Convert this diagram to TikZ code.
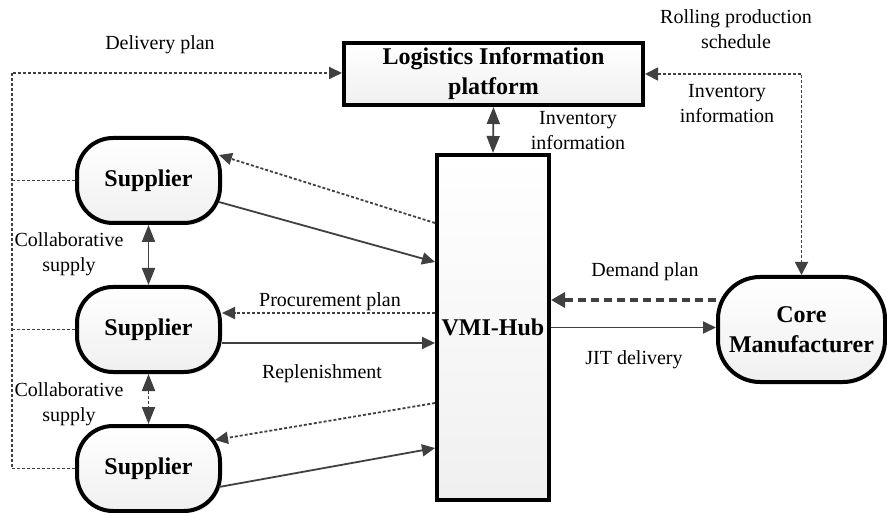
\documentclass[tikz,border=0pt]{standalone}
\usepackage{fontspec}
\setmainfont{Liberation Serif}
\usetikzlibrary{arrows.meta, positioning, calc, shadows}
\definecolor{linegray}{HTML}{404040}
\tikzstyle{boxbase} = [draw=black, line width=4pt, top color=white, bottom color=gray!12, drop shadow={shadow xshift=2pt, shadow yshift=-2pt, fill=black!15}, font=\fontsize{24}{30}\selectfont\bfseries, align=center, inner sep=2pt]
\tikzstyle{platform} = [boxbase, rectangle, minimum width=299pt, minimum height=62pt]
\tikzstyle{hubbox} = [boxbase, rectangle, minimum width=112pt, minimum height=345pt]
\tikzstyle{supplier} = [boxbase, rectangle, rounded corners=36pt, minimum width=143pt, minimum height=85pt]
\tikzstyle{maker} = [boxbase, rectangle, rounded corners=42pt, minimum width=167pt, minimum height=105pt]
\tikzstyle{note} = [font=\fontsize{20}{25}\selectfont, align=center, inner sep=0pt]
\tikzstyle{arrow} = [draw=linegray, line width=1.8pt, -{Triangle[length=13pt,width=12pt]}]
\tikzstyle{dotline} = [draw=linegray, line width=1.8pt, dash pattern=on 3pt off 2pt]
\tikzstyle{dotarrow} = [dotline, -{Triangle[length=13pt,width=12pt]}]
\tikzstyle{twoway} = [draw=linegray, line width=1.8pt, {Triangle[length=17pt,width=13pt]}-{Triangle[length=17pt,width=13pt]}]

\begin{document}
\begin{tikzpicture}[x=1pt, y=-1pt]
        \useasboundingbox (0,0) rectangle (887,513);

        % Platform and hub (Center)
        \node (lip) [platform] at (493.5,74) {Logistics Information\\platform};
        \node (hub) [hubbox] at (493,327.5) {VMI-Hub};

        % Suppliers (Left)
        \node (sup1) [supplier] at (148.5,180.5) {Supplier};
        \node (sup2) [supplier] at (148.5,329.5) {Supplier};
        \node (sup3) [supplier] at (148.5,468.5) {Supplier};

        % Manufacturer (Right)
        \node (core) [maker] at (801.5,329.5) {Core\\Manufacturer};

        % Information bus
        \coordinate (bustop) at (12,73);
        \draw [dotarrow] (sup3.west) -| (bustop) -- (bustop -| lip.west);
        \draw [dotline] (sup1.west) -- (sup1.west -| bustop);
        \draw [dotline] (sup2.west) -- (sup2.west -| bustop);
        \draw [dotline, {Triangle[length=13pt,width=13pt]}-{Triangle[length=13pt,width=13pt]}] (lip.east) -| (core.north);

        % Arrows
        \draw [twoway] (lip.south) -- (hub.north);
        \draw [twoway] (sup1.south) -- (sup2.north);
        \draw [twoway, dash pattern=on 3pt off 2pt] (sup2.south) -- (sup3.north);

        \draw [arrow] ([shift={(-3,21.5)}]sup1.east) -- ([shift={(0,-65.5)}]hub.west);
        \draw [dotarrow] ([shift={(0,-104.5)}]hub.west) -- ([shift={(-3,-25.5)}]sup1.east);
        \draw [dotarrow] ([shift={(0,-14.5)}]hub.west) -- ([shift={(0,-16.5)}]sup2.east);
        \draw [arrow] ([shift={(0,13.5)}]sup2.east) -- ([shift={(0,15.5)}]hub.west);
        \draw [dotarrow] ([shift={(0,75.5)}]hub.west) -- ([shift={(-7,-28.5)}]sup3.east);
        \draw [arrow] ([shift={(-3,18.5)}]sup3.east) -- ([shift={(0,120.5)}]hub.west);

        \draw [draw=linegray, line width=4pt, dash pattern=on 8pt off 5pt, -{Triangle[length=14pt,width=15pt]}] ([shift={(0,-29.5)}]core.west) -- ([shift={(0,-27.5)}]hub.east);
        \draw [arrow] (hub.east) -- (hub.east -| core.west);

        % Labels
        \node (ldel) [note] at (160,45) {Delivery plan};
        \node (lroll) [note] at (736,29.5) {Rolling production\\schedule};
        \node (linvr) [note] at (727,104) {Inventory\\information};
        \node (linvc) [note] at (578,130.5) {Inventory\\information};
        \node (lcol1) [note] at (69,254.5) {Collaborative\\supply};
        \node (lcol2) [note] at (69,404.5) {Collaborative\\supply};
        \node (lproc) [note] at (330,302) {Procurement plan};
        \node (lrep) [note] at (322,374) {Replenishment};
        \node (ldem) [note] at (645,272) {Demand plan};
        \node (ljit) [note] at (634,360) {JIT delivery};

    \end{tikzpicture}
\end{document}
